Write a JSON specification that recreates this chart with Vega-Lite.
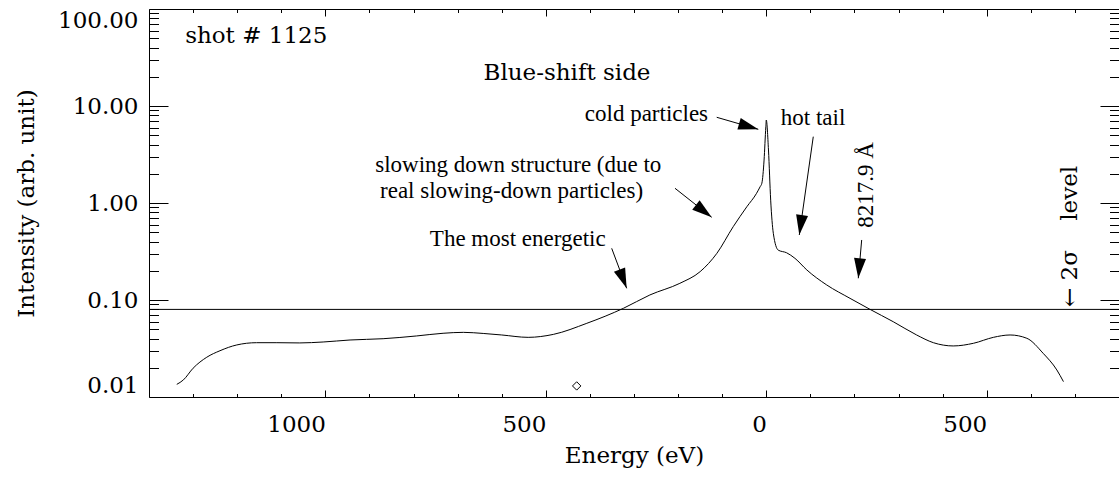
{
  "$schema": "https://vega.github.io/schema/vega-lite/v6.json",
  "width": 970,
  "height": 388,
  "autosize": {"type": "none"},
  "padding": {"left": 149, "top": 9, "right": 0, "bottom": 81},
  "background": "white",
  "config": {
    "view": {"stroke": "black", "strokeWidth": 1},
    "axis": {
      "grid": false, "domain": false, "tickColor": "black", "tickWidth": 1,
      "labelColor": "black", "titleColor": "black",
      "labelFont": "DejaVu Serif", "titleFont": "DejaVu Serif",
      "labelFontSize": 23, "titleFontSize": 23, "titleFontWeight": "normal"
    }
  },
  "datasets": {
    "spectrum": [
      {"energy": -1337, "intensity": 0.0135},
      {"energy": -1322, "intensity": 0.0150},
      {"energy": -1300, "intensity": 0.0198},
      {"energy": -1269, "intensity": 0.0257},
      {"energy": -1239, "intensity": 0.0300},
      {"energy": -1201, "intensity": 0.0344},
      {"energy": -1156, "intensity": 0.0363},
      {"energy": -1110, "intensity": 0.0363},
      {"energy": -1058, "intensity": 0.0361},
      {"energy": -1005, "intensity": 0.0369},
      {"energy": -944, "intensity": 0.0387},
      {"energy": -869, "intensity": 0.0399},
      {"energy": -793, "intensity": 0.0426},
      {"energy": -733, "intensity": 0.0454},
      {"energy": -687, "intensity": 0.0464},
      {"energy": -642, "intensity": 0.0452},
      {"energy": -600, "intensity": 0.0436},
      {"energy": -540, "intensity": 0.0412},
      {"energy": -483, "intensity": 0.0442},
      {"energy": -407, "intensity": 0.0575},
      {"energy": -324, "intensity": 0.0821},
      {"energy": -264, "intensity": 0.1127},
      {"energy": -196, "intensity": 0.1486},
      {"energy": -150, "intensity": 0.196},
      {"energy": -112, "intensity": 0.303},
      {"energy": -75, "intensity": 0.570},
      {"energy": -44, "intensity": 0.916},
      {"energy": -22, "intensity": 1.259},
      {"energy": -14, "intensity": 1.47},
      {"energy": -10, "intensity": 1.60},
      {"energy": -5, "intensity": 2.77},
      {"energy": -1, "intensity": 6.12},
      {"energy": 0, "intensity": 7.17},
      {"energy": 5, "intensity": 3.52},
      {"energy": 10, "intensity": 1.07},
      {"energy": 16, "intensity": 0.487},
      {"energy": 27, "intensity": 0.327},
      {"energy": 46, "intensity": 0.307},
      {"energy": 65, "intensity": 0.269},
      {"energy": 92, "intensity": 0.204},
      {"energy": 137, "intensity": 0.143},
      {"energy": 190, "intensity": 0.104},
      {"energy": 235, "intensity": 0.0802},
      {"energy": 288, "intensity": 0.0597},
      {"energy": 341, "intensity": 0.0436},
      {"energy": 379, "intensity": 0.0363},
      {"energy": 424, "intensity": 0.0336},
      {"energy": 470, "intensity": 0.0358},
      {"energy": 515, "intensity": 0.0412},
      {"energy": 553, "intensity": 0.0436},
      {"energy": 591, "intensity": 0.0403},
      {"energy": 628, "intensity": 0.0282},
      {"energy": 659, "intensity": 0.0190},
      {"energy": 674, "intensity": 0.0144}
    ],
    "marker": [{"energy": -430, "intensity": 0.013}],
    "level": [{"intensity": 0.08}],
    "arrows": [
      {"name": "cold", "energy": -112.4, "intensity": 7.65, "energy2": -18.1, "intensity2": 5.75},
      {"name": "hot", "energy": 106.6, "intensity": 4.83, "energy2": 74.9, "intensity2": 0.468},
      {"name": "slow", "energy": -207, "intensity": 1.418, "energy2": -123.8, "intensity2": 0.712},
      {"name": "energetic", "energy": -350.6, "intensity": 0.341, "energy2": -316.6, "intensity2": 0.132},
      {"name": "wave", "energy": 216.4, "intensity": 0.4157, "energy2": 208.7, "intensity2": 0.1674}
    ],
    "notes": [
      {"name": "shot", "label": "shot # 1125", "energy": -1318, "intensity": 44.3},
      {"name": "blue", "label": "Blue-shift side", "energy": -452, "intensity": 18.5},
      {"name": "cold", "label": "cold particles", "energy": -132, "intensity": 7.06},
      {"name": "hot", "label": "hot tail", "energy": 33, "intensity": 6.37},
      {"name": "slow1", "label": "slowing down structure (due to", "energy": -887, "intensity": 2.10},
      {"name": "slow2", "label": "real slowing-down particles)", "energy": -876, "intensity": 1.118},
      {"name": "energetic", "label": "The most energetic", "energy": -763, "intensity": 0.363},
      {"name": "wave", "label": "8217.9 Å", "energy": 242, "intensity": 1.533},
      {"name": "sigma", "label": "←\u00a02σ\u00a0\u00a0\u00a0\u00a0level", "energy": 705, "intensity": 0.0847}
    ]
  },
  "resolve": {"axis": {"x": "independent", "y": "independent"}},
  "layer": [
    {
      "data": {"name": "spectrum"},
      "mark": {"type": "line", "color": "black", "strokeWidth": 1, "interpolate": "monotone"},
      "encoding": {
        "x": {"field": "energy", "type": "quantitative",
              "scale": {"domain": [-1400, 800], "nice": false, "zero": false},
              "axis": {"orient": "bottom", "values": [-1000, -500, 0, 500],
                       "labelExpr": "format(abs(datum.value), 'd')",
                       "labelFont": "DejaVu Serif", "labelFontSize": 23, "labelColor": "black",
                       "titleFont": "DejaVu Serif", "titleFontSize": 23, "titleFontWeight": "normal", "titleColor": "black",
                       "tickSize": -7, "tickColor": "black", "labelPadding": 23, "labelAlign": "right", "labelDx": 7,
                       "title": "Energy (eV)", "titlePadding": 8}},
        "y": {"field": "intensity", "type": "quantitative",
              "scale": {"type": "log", "domain": [0.01, 100], "nice": false},
              "axis": {"orient": "left", "values": [0.01, 0.1, 1, 10, 100], "format": ".2f",
                       "labelFont": "DejaVu Serif", "labelFontSize": 23, "labelColor": "black",
                       "titleFont": "DejaVu Serif", "titleFontSize": 23, "titleFontWeight": "normal", "titleColor": "black",
                       "labelFlush": true, "tickSize": -19, "tickColor": "black", "labelPadding": 30,
                       "title": "Intensity (arb. unit)", "titlePadding": 19}}
      }
    },
    {
      "data": {"name": "marker"},
      "mark": {"type": "point", "shape": "diamond", "filled": false, "size": 70, "stroke": "black", "strokeWidth": 1, "opacity": 1},
      "encoding": {
        "x": {"field": "energy", "type": "quantitative",
              "scale": {"domain": [-1400, 800], "nice": false, "zero": false},
              "axis": {"orient": "bottom", "values": [-1300, -1200, -1100, -900, -800, -700, -600, -400, -300, -200, -100, 100, 200, 300, 400, 600, 700],
                       "labels": false, "tickSize": -3.5, "tickColor": "black", "title": null}},
        "y": {"field": "intensity", "type": "quantitative",
              "scale": {"type": "log", "domain": [0.01, 100], "nice": false},
              "axis": {"orient": "left", "values": [0.02, 0.03, 0.04, 0.05, 0.06, 0.07, 0.08, 0.09, 0.2, 0.3, 0.4, 0.5, 0.6, 0.7, 0.8, 0.9, 2, 3, 4, 5, 6, 7, 8, 9, 20, 30, 40, 50, 60, 70, 80, 90],
                       "labels": false, "tickSize": -9.5, "tickColor": "black", "title": null}}
      }
    },
    {
      "data": {"name": "arrows"},
      "mark": {"type": "rule", "color": "black", "strokeWidth": 1},
      "encoding": {
        "x": {"field": "energy", "type": "quantitative",
              "scale": {"domain": [-1400, 800], "nice": false, "zero": false},
              "axis": {"orient": "top", "values": [-1000, -500, 0, 500], "labels": false, "tickSize": -7, "tickColor": "black", "title": null}},
        "y": {"field": "intensity", "type": "quantitative",
              "scale": {"type": "log", "domain": [0.01, 100], "nice": false},
              "axis": {"orient": "right", "values": [0.01, 0.1, 1, 10, 100], "labels": false, "tickSize": -19, "tickColor": "black", "title": null}},
        "x2": {"field": "energy2"},
        "y2": {"field": "intensity2"}
      }
    },
    {
      "data": {"name": "arrows"},
      "transform": [{"filter": "datum.name == 'cold'"}],
      "mark": {"type": "point", "shape": "M0,0L-0.3,1L0.3,1Z", "filled": true, "color": "black", "opacity": 1, "size": 1600, "angle": 106, "strokeWidth": 0},
      "encoding": {
        "x": {"field": "energy2", "type": "quantitative",
              "scale": {"domain": [-1400, 800], "nice": false, "zero": false},
              "axis": {"orient": "top", "values": [-1300, -1200, -1100, -900, -800, -700, -600, -400, -300, -200, -100, 100, 200, 300, 400, 600, 700],
                       "labels": false, "tickSize": -3.5, "tickColor": "black", "title": null}},
        "y": {"field": "intensity2", "type": "quantitative",
              "scale": {"type": "log", "domain": [0.01, 100], "nice": false},
              "axis": {"orient": "right", "values": [0.02, 0.03, 0.04, 0.05, 0.06, 0.07, 0.08, 0.09, 0.2, 0.3, 0.4, 0.5, 0.6, 0.7, 0.8, 0.9, 2, 3, 4, 5, 6, 7, 8, 9, 20, 30, 40, 50, 60, 70, 80, 90],
                       "labels": false, "tickSize": -9.5, "tickColor": "black", "title": null}}
      }
    },
    {
      "data": {"name": "arrows"},
      "transform": [{"filter": "datum.name == 'hot'"}],
      "mark": {"type": "point", "shape": "M0,0L-0.3,1L0.3,1Z", "filled": true, "color": "black", "opacity": 1, "size": 1600, "angle": 188, "strokeWidth": 0},
      "encoding": {
        "x": {"field": "energy2", "type": "quantitative", "axis": null},
        "y": {"field": "intensity2", "type": "quantitative", "axis": null}
      }
    },
    {
      "data": {"name": "arrows"},
      "transform": [{"filter": "datum.name == 'slow'"}],
      "mark": {"type": "point", "shape": "M0,0L-0.3,1L0.3,1Z", "filled": true, "color": "black", "opacity": 1, "size": 1600, "angle": 128, "strokeWidth": 0},
      "encoding": {
        "x": {"field": "energy2", "type": "quantitative", "axis": null},
        "y": {"field": "intensity2", "type": "quantitative", "axis": null}
      }
    },
    {
      "data": {"name": "arrows"},
      "transform": [{"filter": "datum.name == 'energetic'"}],
      "mark": {"type": "point", "shape": "M0,0L-0.3,1L0.3,1Z", "filled": true, "color": "black", "opacity": 1, "size": 1600, "angle": 159, "strokeWidth": 0},
      "encoding": {
        "x": {"field": "energy2", "type": "quantitative", "axis": null},
        "y": {"field": "intensity2", "type": "quantitative", "axis": null}
      }
    },
    {
      "data": {"name": "arrows"},
      "transform": [{"filter": "datum.name == 'wave'"}],
      "mark": {"type": "point", "shape": "M0,0L-0.3,1L0.3,1Z", "filled": true, "color": "black", "opacity": 1, "size": 1600, "angle": 185, "strokeWidth": 0},
      "encoding": {
        "x": {"field": "energy2", "type": "quantitative", "axis": null},
        "y": {"field": "intensity2", "type": "quantitative", "axis": null}
      }
    },
    {
      "data": {"name": "level"},
      "mark": {"type": "rule", "color": "black", "strokeWidth": 1},
      "encoding": {
        "y": {"field": "intensity", "type": "quantitative", "axis": null}
      }
    },
    {
      "data": {"name": "notes"},
      "transform": [{"filter": "datum.name == 'shot'"}],
      "mark": {"type": "text", "font": "DejaVu Serif", "fontSize": 23, "align": "left", "baseline": "alphabetic", "color": "black"},
      "encoding": {
        "x": {"field": "energy", "type": "quantitative", "axis": null},
        "y": {"field": "intensity", "type": "quantitative", "axis": null},
        "text": {"field": "label"}
      }
    },
    {
      "data": {"name": "notes"},
      "transform": [{"filter": "datum.name == 'blue'"}],
      "mark": {"type": "text", "font": "DejaVu Serif", "fontSize": 23, "align": "center", "baseline": "alphabetic", "color": "black"},
      "encoding": {
        "x": {"field": "energy", "type": "quantitative", "axis": null},
        "y": {"field": "intensity", "type": "quantitative", "axis": null},
        "text": {"field": "label"}
      }
    },
    {
      "data": {"name": "notes"},
      "transform": [{"filter": "datum.name == 'sigma'"}],
      "mark": {"type": "text", "font": "DejaVu Serif", "fontSize": 23, "align": "left", "baseline": "alphabetic", "angle": 270, "color": "black"},
      "encoding": {
        "x": {"field": "energy", "type": "quantitative", "axis": null},
        "y": {"field": "intensity", "type": "quantitative", "axis": null},
        "text": {"field": "label"}
      }
    },
    {
      "data": {"name": "notes"},
      "transform": [{"filter": "datum.name == 'cold'"}],
      "mark": {"type": "text", "font": "Liberation Serif", "fontSize": 23, "align": "right", "baseline": "alphabetic", "color": "black"},
      "encoding": {
        "x": {"field": "energy", "type": "quantitative", "axis": null},
        "y": {"field": "intensity", "type": "quantitative", "axis": null},
        "text": {"field": "label"}
      }
    },
    {
      "data": {"name": "notes"},
      "transform": [{"filter": "indexof(['hot','slow1','slow2','energetic'], datum.name) >= 0"}],
      "mark": {"type": "text", "font": "Liberation Serif", "fontSize": 23, "align": "left", "baseline": "alphabetic", "color": "black"},
      "encoding": {
        "x": {"field": "energy", "type": "quantitative", "axis": null},
        "y": {"field": "intensity", "type": "quantitative", "axis": null},
        "text": {"field": "label"}
      }
    },
    {
      "data": {"name": "notes"},
      "transform": [{"filter": "datum.name == 'wave'"}],
      "mark": {"type": "text", "font": "Liberation Serif", "fontSize": 23, "align": "center", "baseline": "alphabetic", "angle": 270, "color": "black"},
      "encoding": {
        "x": {"field": "energy", "type": "quantitative", "axis": null},
        "y": {"field": "intensity", "type": "quantitative", "axis": null},
        "text": {"field": "label"}
      }
    }
  ]
}
